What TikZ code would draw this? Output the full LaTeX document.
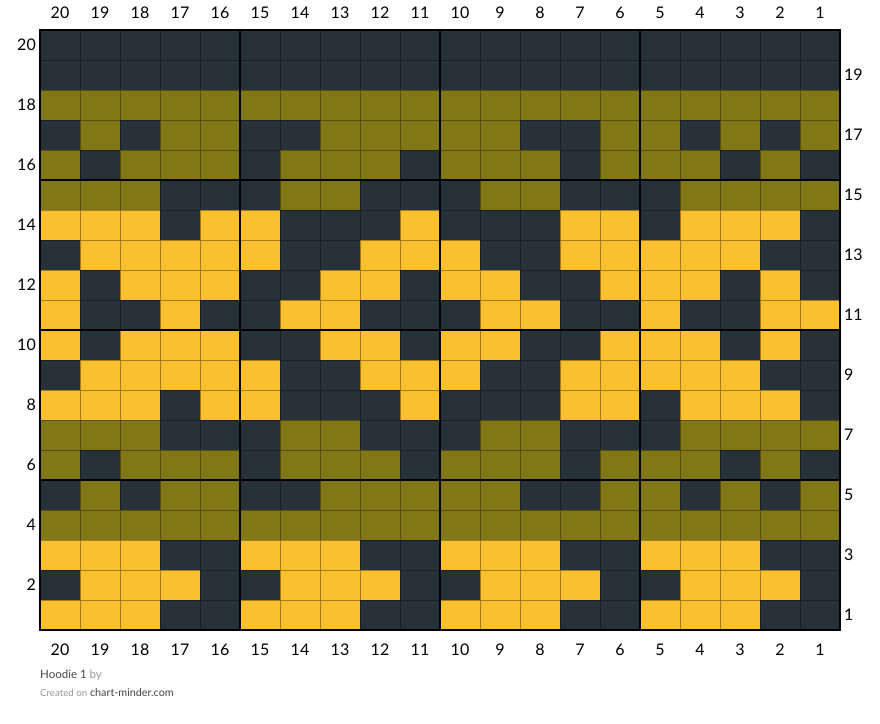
\documentclass[tikz,border=0pt]{standalone}
\usepackage{fontspec}
\setmainfont{Lato}
\definecolor{st0}{HTML}{263238}
\definecolor{st1}{HTML}{827717}
\definecolor{st2}{HTML}{FBC02D}
\definecolor{inkgray}{HTML}{444444}
\definecolor{softgray}{HTML}{999999}
\tikzset{
  cell/.style={draw=black, draw opacity=0.35, line width=0.5pt},
  num/.style={font=\fontsize{16}{18}\selectfont, text=black, inner sep=0pt},
  major/.style={line width=2pt, black},
}
\begin{document}
\begin{tikzpicture}[x=1pt, y=-1pt]
  \useasboundingbox (0,0) rectangle (880,723);
  % stitches, row by row from the top
  \foreach \r/\list in {
    20/{0,0,0,0,0,0,0,0,0,0,0,0,0,0,0,0,0,0,0,0},
    19/{0,0,0,0,0,0,0,0,0,0,0,0,0,0,0,0,0,0,0,0},
    18/{1,1,1,1,1,1,1,1,1,1,1,1,1,1,1,1,1,1,1,1},
    17/{0,1,0,1,1,0,0,1,1,1,1,1,0,0,1,1,0,1,0,1},
    16/{1,0,1,1,1,0,1,1,1,0,1,1,1,0,1,1,1,0,1,0},
    15/{1,1,1,0,0,0,1,1,0,0,0,1,1,0,0,0,1,1,1,1},
    14/{2,2,2,0,2,2,0,0,0,2,0,0,0,2,2,0,2,2,2,0},
    13/{0,2,2,2,2,2,0,0,2,2,2,0,0,2,2,2,2,2,0,0},
    12/{2,0,2,2,2,0,0,2,2,0,2,2,0,0,2,2,2,0,2,0},
    11/{2,0,0,2,0,0,2,2,0,0,0,2,2,0,0,2,0,0,2,2},
    10/{2,0,2,2,2,0,0,2,2,0,2,2,0,0,2,2,2,0,2,0},
    9/{0,2,2,2,2,2,0,0,2,2,2,0,0,2,2,2,2,2,0,0},
    8/{2,2,2,0,2,2,0,0,0,2,0,0,0,2,2,0,2,2,2,0},
    7/{1,1,1,0,0,0,1,1,0,0,0,1,1,0,0,0,1,1,1,1},
    6/{1,0,1,1,1,0,1,1,1,0,1,1,1,0,1,1,1,0,1,0},
    5/{0,1,0,1,1,0,0,1,1,1,1,1,0,0,1,1,0,1,0,1},
    4/{1,1,1,1,1,1,1,1,1,1,1,1,1,1,1,1,1,1,1,1},
    3/{2,2,2,0,0,2,2,2,0,0,2,2,2,0,0,2,2,2,0,0},
    2/{0,2,2,2,0,0,2,2,2,0,0,2,2,2,0,0,2,2,2,0},
    1/{2,2,2,0,0,2,2,2,0,0,2,2,2,0,0,2,2,2,0,0}}
  {
    \foreach \v [count=\i] in \list
      \filldraw[cell, fill=st\v] ({40*\i}, {30+(20-\r)*30}) rectangle +(40,30);
  }
  % every fifth line
  \foreach \k in {1,2,3}{
    \draw[major] ({40+200*\k}, 30) -- ({40+200*\k}, 630);
    \draw[major] (40, {30+150*\k}) -- (840, {30+150*\k});
  }
  \draw[line width=2.5pt] (40,30) rectangle (840,630);
  % stitch numbers
  \foreach \c [evaluate=\c as \n using int(21-\c)] in {1,...,20}{
    \node[num] (top-\c) at ({40*\c+20}, 13) {\n};
    \node[num] (bot-\c) at ({40*\c+20}, 650) {\n};
  }
  % row numbers, even on the left and odd on the right
  \foreach \r in {2,4,...,20}
    \node[num, anchor=east] (row-\r) at (36, {45+(20-\r)*30}) {\r};
  \foreach \r in {1,3,...,19}
    \node[num, anchor=west] (row-\r) at (844, {45+(20-\r)*30}) {\r};
  \node[anchor=base west, inner sep=0pt, font=\fontsize{11.5}{13}\selectfont, text=inkgray]
    (title) at (40, 678) {Hoodie 1 \textcolor{softgray}{by}};
  \node[anchor=base west, inner sep=0pt, font=\fontsize{10.8}{13}\selectfont, text=inkgray]
    (credit) at (40, 696) {\textcolor{softgray}{\fontsize{9.7}{12}\selectfont Created on} chart-minder.com};
\end{tikzpicture}
\end{document}
